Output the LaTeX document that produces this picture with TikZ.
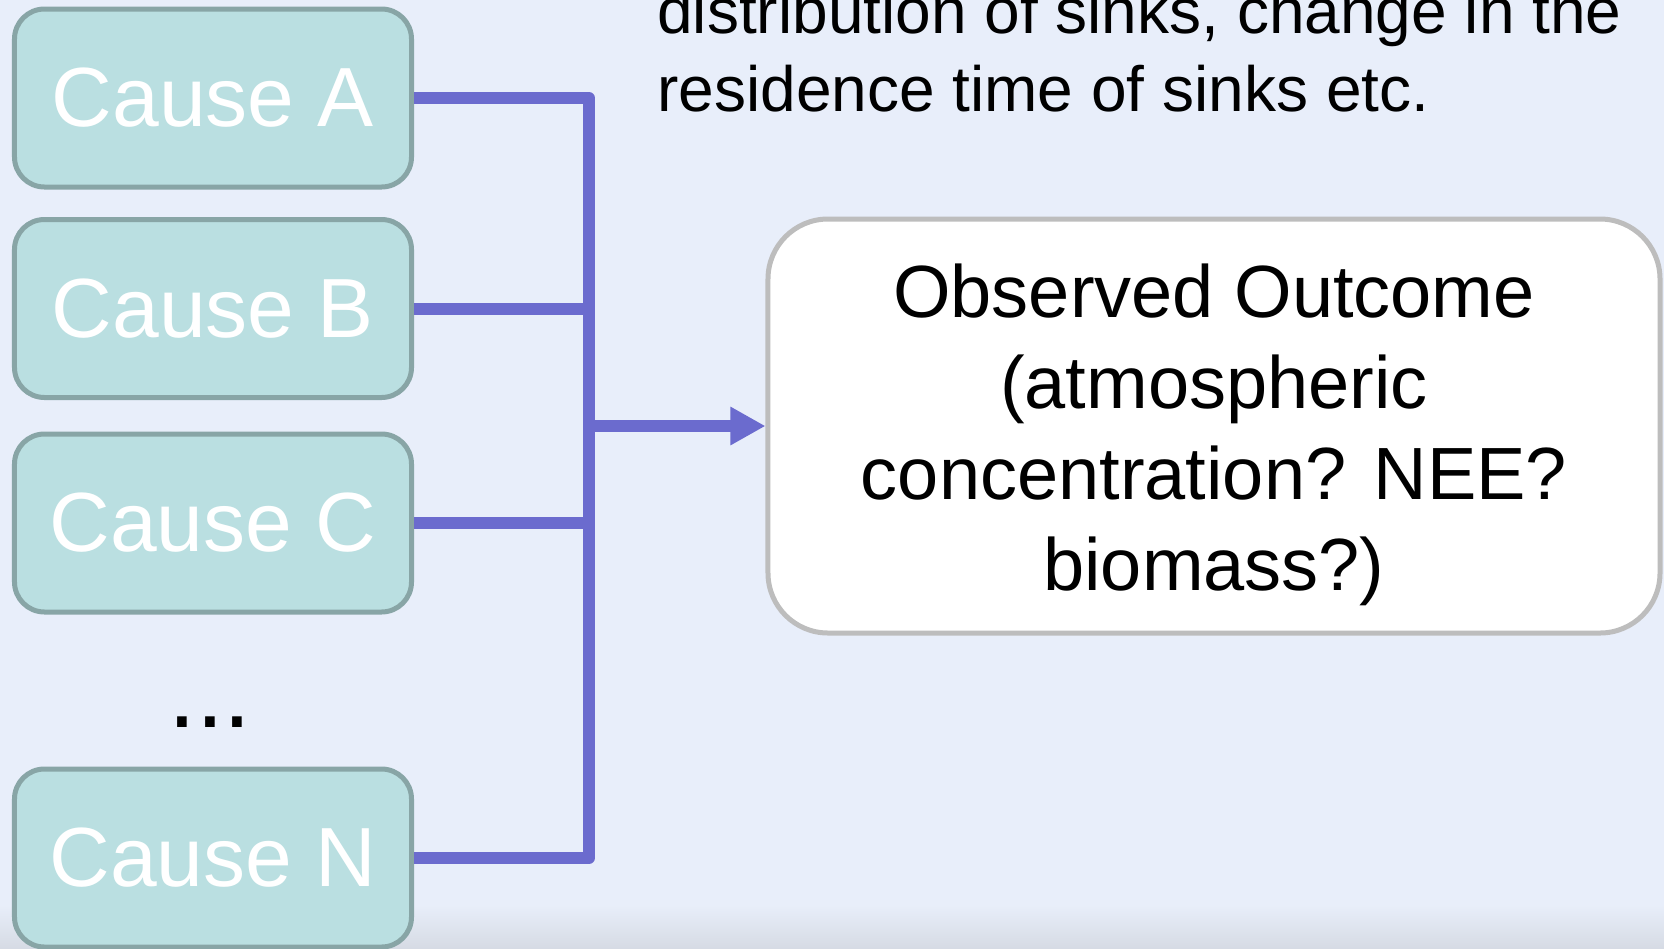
\documentclass[tikz,border=0pt]{standalone}
\usepackage{fontspec}
\setmainfont{Liberation Sans}
\usetikzlibrary{arrows.meta}
\definecolor{bg}{HTML}{E8EEFA}
\definecolor{causefill}{HTML}{BADFE1}
\definecolor{causeline}{HTML}{88A5A6}
\definecolor{conn}{HTML}{6B6BCE}
\definecolor{outline}{HTML}{BDBDBD}
\definecolor{shadowcol}{HTML}{D6DBE4}
\begin{document}
\begin{tikzpicture}[x=0.5bp,y=-0.5bp,
 causebox/.style={draw=causeline, fill=causefill, line width=2.5bp, rounded corners=15bp,
   minimum width=198.5bp, minimum height=89bp, inner sep=0pt, text=white,
   font=\fontsize{42bp}{50bp}\selectfont},
 outbox/.style={draw=outline, fill=white, line width=2.5bp, rounded corners=30bp,
   minimum width=446bp, minimum height=207bp, inner sep=0pt, align=center,
   font=\fontsize{37bp}{45.5bp}\selectfont},
 connector/.style={draw=conn, line width=6bp, line join=round},
 toptext/.style={anchor=base west, inner sep=0pt, font=\fontsize{32bp}{39bp}\selectfont}
]
\useasboundingbox (0,0) rectangle (1664,948);
\fill[bg] (0,0) rectangle (1664,948);
\shade[top color=bg, bottom color=shadowcol] (0,905) rectangle (1664,948);

\node[causebox] (a) at (213,98) {Cause A};
\node[causebox] (b) at (213,308.5) {Cause B};
\node[causebox] (c) at (213,523) {Cause C};
\node[causebox] (n) at (213,858) {Cause N};
\node[font=\fontsize{50bp}{50bp}\selectfont, anchor=base, inner sep=0pt] (dots) at (210,727.5) {...};
\node[outbox] (out) at (1214,426) {\rule{0pt}{36bp}Observed Outcome\\(atmospheric\\concentration? NEE?\\biomass?)};
\node[toptext] (t1) at (657,33) {distribution of sinks, change in the};
\node[toptext] (t2) at (657,111) {residence time of sinks etc.};

\coordinate (bus) at (589,858);
\draw[connector] (a.east) -| (bus) -- (n.east);
\draw[connector] (b.east) -- (b.east -| bus);
\draw[connector] (c.east) -- (c.east -| bus);
\draw[connector, -{Triangle[length=17.5bp, width=18bp]}] (out.west -| bus) -- (out.west);
\end{tikzpicture}
\end{document}
